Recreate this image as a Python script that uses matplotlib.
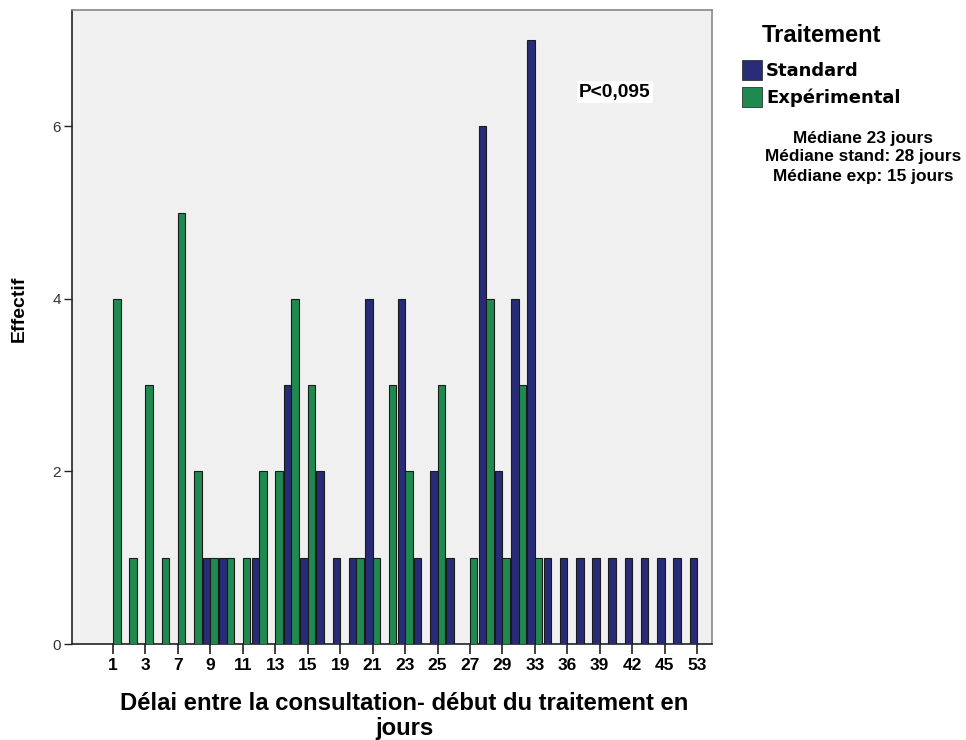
import matplotlib
matplotlib.use("Agg")
import matplotlib.pyplot as plt
import numpy as np
from matplotlib.patches import Rectangle

# Data
categories = [1, 2, 3, 5, 7, 8, 9, 10, 11, 12, 13, 14, 15, 17, 19, 20, 21, 22, 23, 24,
              25, 26, 27, 28, 29, 30, 33, 34, 36, 37, 39, 40, 42, 43, 45, 48, 53]
standard = [0, 0, 0, 0, 0, 0, 1, 1, 0, 1, 0, 3, 1, 2, 1, 1, 4, 0, 4, 1,
            2, 1, 0, 6, 2, 4, 7, 1, 1, 1, 1, 1, 1, 1, 1, 1, 1]
experimental = [4, 1, 3, 1, 5, 2, 1, 1, 1, 2, 2, 4, 3, 0, 0, 1, 1, 3, 2, 0,
                3, 0, 1, 4, 1, 3, 1, 0, 0, 0, 0, 0, 0, 0, 0, 0, 0]
series_names = ["Standard", "Expérimental"]
colors = ["#282b75", "#1f8a4f"]
yticks = [0, 2, 4, 6]

W, H = 966, 740
fig = plt.figure(figsize=(W / 100, H / 100), dpi=100)
fig.patch.set_facecolor("white")

def fx(px):
    return px / W

def fy(py):
    return 1 - py / H

ax = fig.add_axes([fx(72), fy(644), fx(712) - fx(72), fy(10) - fy(644)])
ax.set_facecolor("#f0f0f0")

x = np.arange(len(categories))
w = 0.46
ax.bar(x - w / 2, standard, width=w, color=colors[0], edgecolor="#1a1a1a", linewidth=0.8, zorder=3)
ax.bar(x + w / 2, experimental, width=w, color=colors[1], edgecolor="#1a1a1a", linewidth=0.8, zorder=3)

ax.set_xlim(-2.53, len(categories) - 1 + 0.92)
ax.set_ylim(0, 7.35)

ax.set_xticks(x[::2])
ax.set_xticklabels([str(c) for c in categories[::2]], fontfamily="Liberation Sans",
                   fontweight="bold", fontsize=12.5)
ax.set_yticks(yticks)
ax.set_yticklabels([str(t) for t in yticks], fontfamily="Liberation Sans", fontsize=11, color="#333333")
ax.tick_params(axis="x", length=7, width=1.2, color="#222222", pad=3)
ax.tick_params(axis="y", length=6, width=1.0, color="#222222", pad=2)

for side in ["left", "bottom"]:
    ax.spines[side].set_color("#222222")
    ax.spines[side].set_linewidth(1.2)
for side in ["top", "right"]:
    ax.spines[side].set_color("#888888")
    ax.spines[side].set_linewidth(1.2)

fig.text(fx(19), fy(309), "Effectif", rotation=90, ha="center", va="center",
         fontfamily="Liberation Sans", fontweight="bold", fontsize=14)
fig.text(fx(404), fy(704), "Délai entre la consultation- début du traitement en", ha="center", va="center",
         fontfamily="Liberation Sans", fontweight="bold", fontsize=17.2)
fig.text(fx(404), fy(729), "jours", ha="center", va="center",
         fontfamily="Liberation Sans", fontweight="bold", fontsize=17.2)

# P value annotation
fig.text(fx(615), fy(92), "P<0,095", ha="center", va="center",
         fontfamily="Liberation Sans", fontweight="bold", fontsize=13.8,
         bbox=dict(facecolor="white", edgecolor="none", pad=2))

# Legend
fig.text(fx(822), fy(35), "Traitement", ha="center", va="center",
         fontfamily="Liberation Sans", fontweight="bold", fontsize=17)
for i, (name, col) in enumerate(zip(series_names, colors)):
    ytop = 60 + i * 27
    fig.patches.append(Rectangle((fx(742), fy(ytop + 20)), fx(20), fy(ytop) - fy(ytop + 20),
                                 transform=fig.transFigure, facecolor=col, edgecolor="#333333",
                                 linewidth=0.6))
    fig.text(fx(766), fy(ytop + 11), name, ha="left", va="center",
             fontfamily="DejaVu Sans", fontweight="bold", fontsize=13)

med_lines = ["Médiane 23 jours", "Médiane stand: 28 jours", "Médiane exp: 15 jours"]
for i, t in enumerate(med_lines):
    fig.text(fx(863), fy(138 + i * 19), t, ha="center", va="center",
             fontfamily="Liberation Sans", fontweight="bold", fontsize=12.4)

fig.savefig("out.png", dpi=100)
